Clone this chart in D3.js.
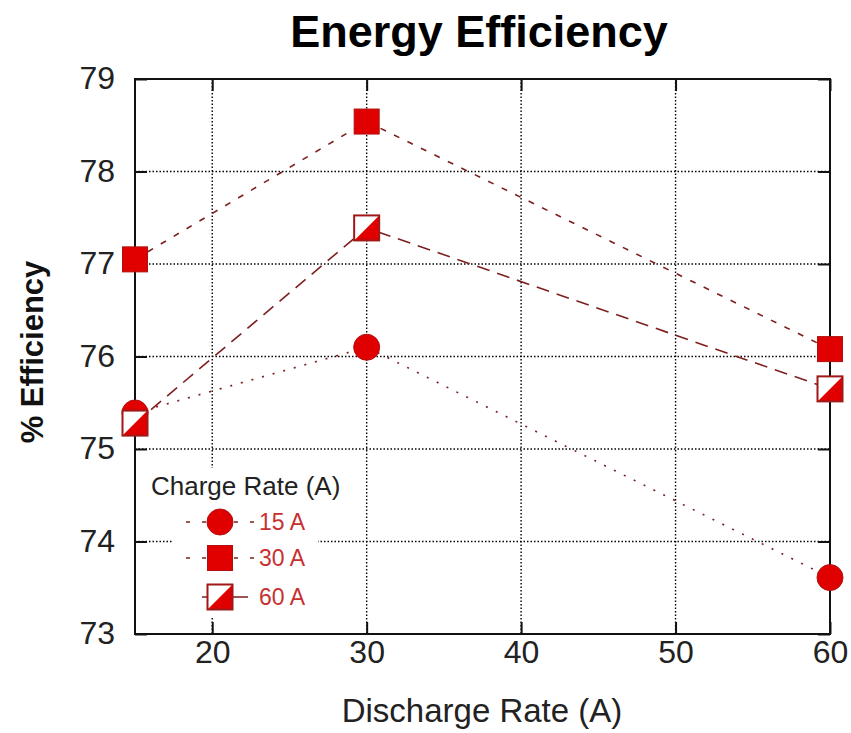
<!DOCTYPE html>
<html>
<head>
<meta charset="utf-8">
<script src="https://cdn.jsdelivr.net/npm/d3@7"></script>
<style>
  body { margin: 0; background: #fff; }
  text { font-family: "Liberation Sans", Arial, sans-serif; }
</style>
</head>
<body>
<svg id="chart" width="851" height="733"></svg>
<script>
// data
var dischargeRates = [15, 30, 60];
var eff15 = [75.39, 76.10, 73.61];
var eff30 = [77.05, 78.54, 76.08];
var eff60 = [75.28, 77.39, 75.65];
var seriesNames = ["15 A", "30 A", "60 A"];
var xTicks = [20, 30, 40, 50, 60];
var yTicks = [73, 74, 75, 76, 77, 78, 79];

var margin = { top: 79, right: 21, bottom: 99, left: 135 },
  width = 851 - margin.left - margin.right,
  height = 733 - margin.top - margin.bottom;

var svg = d3.select("#chart");
var g = svg.append("g")
  .attr("transform", "translate(" + margin.left + "," + margin.top + ")");

var x = d3.scaleLinear().domain([15, 60]).range([0, width]);
var y = d3.scaleLinear().domain([73, 79]).range([height, 0]);

var lineColor = "#7e1f1f";
var markerFill = "#e00000";
var markerStroke = "#b01010";

// grid (dotted)
g.selectAll(".vgrid")
  .data(xTicks.filter(function (d) { return d < 60; }))
  .enter().append("line")
  .attr("x1", function (d) { return x(d); })
  .attr("x2", function (d) { return x(d); })
  .attr("y1", 0).attr("y2", height)
  .attr("stroke", "#000").attr("stroke-width", 1.4)
  .attr("stroke-dasharray", "1.5,2");

g.selectAll(".hgrid")
  .data(yTicks.filter(function (d) { return d > 73 && d < 79; }))
  .enter().append("line")
  .attr("x1", 0).attr("x2", width)
  .attr("y1", function (d) { return y(d); })
  .attr("y2", function (d) { return y(d); })
  .attr("stroke", "#000").attr("stroke-width", 1.4)
  .attr("stroke-dasharray", "1.5,2");

// axes with inward ticks
var xAxisB = d3.axisBottom(x).tickValues(xTicks).tickSize(-12).tickPadding(29).tickFormat(d3.format("d"));
var xAxisT = d3.axisTop(x).tickValues(xTicks).tickSize(-12).tickFormat("");
var yAxisL = d3.axisLeft(y).tickValues(yTicks).tickSize(-12).tickPadding(20).tickFormat(d3.format("d"));
var yAxisR = d3.axisRight(y).tickValues(yTicks).tickSize(-12).tickFormat("");

function styleAxis(sel) {
  sel.select(".domain").remove();
  sel.selectAll(".tick line").attr("stroke", "#111").attr("stroke-width", 2);
  sel.selectAll(".tick text").attr("fill", "#222").style("font-size", "32px");
}
g.append("g").attr("transform", "translate(0," + height + ")").call(xAxisB).call(styleAxis)
  .selectAll(".tick text").attr("dy", null);
g.append("g").call(xAxisT).call(styleAxis);
g.append("g").call(yAxisL).call(styleAxis)
  .selectAll(".tick text").attr("dy", "0.3em");
g.append("g").attr("transform", "translate(" + width + ",0)").call(yAxisR).call(styleAxis);

// frame
g.append("rect")
  .attr("width", width).attr("height", height)
  .attr("fill", "none").attr("stroke", "#111").attr("stroke-width", 2);

// series
var series = [
  { name: seriesNames[0], values: eff15, dash: "2,9", shape: "circle" },
  { name: seriesNames[1], values: eff30, dash: "6,9", shape: "square" },
  { name: seriesNames[2], values: eff60, dash: "13,8", shape: "half" }
];

var line = d3.line()
  .x(function (d, i) { return x(dischargeRates[i]); })
  .y(function (d) { return y(d); });

series.forEach(function (s) {
  g.append("path")
    .datum(s.values)
    .attr("fill", "none")
    .attr("stroke", lineColor)
    .attr("stroke-width", 1.6)
    .attr("stroke-dasharray", s.dash)
    .attr("d", line);
});

function drawMarker(parent, shape, cx, cy) {
  var h = 12.5;
  if (shape === "circle") {
    parent.append("circle")
      .attr("cx", cx).attr("cy", cy).attr("r", 13)
      .attr("fill", markerFill).attr("stroke", markerStroke).attr("stroke-width", 1);
  } else if (shape === "square") {
    parent.append("rect")
      .attr("x", cx - h).attr("y", cy - h).attr("width", 2 * h).attr("height", 2 * h)
      .attr("fill", markerFill).attr("stroke", markerStroke).attr("stroke-width", 1);
  } else {
    parent.append("rect")
      .attr("x", cx - h).attr("y", cy - h).attr("width", 2 * h).attr("height", 2 * h)
      .attr("fill", "#fff");
    parent.append("path")
      .attr("d", "M" + (cx - h) + "," + (cy + h) + "L" + (cx + h) + "," + (cy - h) + "L" + (cx + h) + "," + (cy + h) + "Z")
      .attr("fill", markerFill);
    parent.append("rect")
      .attr("x", cx - h).attr("y", cy - h).attr("width", 2 * h).attr("height", 2 * h)
      .attr("fill", "none").attr("stroke", "#a01818").attr("stroke-width", 2);
  }
}

series.forEach(function (s) {
  s.values.forEach(function (v, i) {
    drawMarker(g, s.shape, x(dischargeRates[i]), y(v));
  });
});

// legend (page coordinates)
var legend = svg.append("g");
legend.append("rect")
  .attr("x", 172).attr("y", 468).attr("width", 146).attr("height", 150)
  .attr("fill", "#fff");
legend.append("text")
  .attr("x", 151).attr("y", 495)
  .attr("fill", "#222").style("font-size", "26px")
  .text("Charge Rate (A)");

var legendY = [522, 558, 597];
series.forEach(function (s, i) {
  var ly = legendY[i];
  if (i < 2) {
    legend.append("line")
      .attr("x1", 186).attr("x2", 254)
      .attr("y1", ly).attr("y2", ly)
      .attr("stroke", lineColor).attr("stroke-width", 1.6)
      .attr("stroke-dasharray", "4,12");
  } else {
    legend.append("line")
      .attr("x1", 202).attr("x2", 248)
      .attr("y1", ly).attr("y2", ly)
      .attr("stroke", lineColor).attr("stroke-width", 1.6);
  }
  drawMarker(legend, s.shape, 220, ly);
  legend.append("text")
    .attr("x", 259).attr("y", ly + 8)
    .attr("fill", "#c83030").style("font-size", "23px")
    .text(s.name);
});

// titles
svg.append("text")
  .attr("x", 479).attr("y", 47)
  .attr("text-anchor", "middle")
  .style("font-size", "45px").style("font-weight", "bold")
  .attr("fill", "#000")
  .text("Energy Efficiency");

svg.append("text")
  .attr("x", 482).attr("y", 722)
  .attr("text-anchor", "middle")
  .style("font-size", "33px").attr("fill", "#222")
  .text("Discharge Rate (A)");

svg.append("text")
  .attr("transform", "translate(43,352) rotate(-90)")
  .attr("text-anchor", "middle")
  .style("font-size", "31px").style("font-weight", "bold").attr("fill", "#111")
  .text("% Efficiency");
</script>
</body>
</html>
